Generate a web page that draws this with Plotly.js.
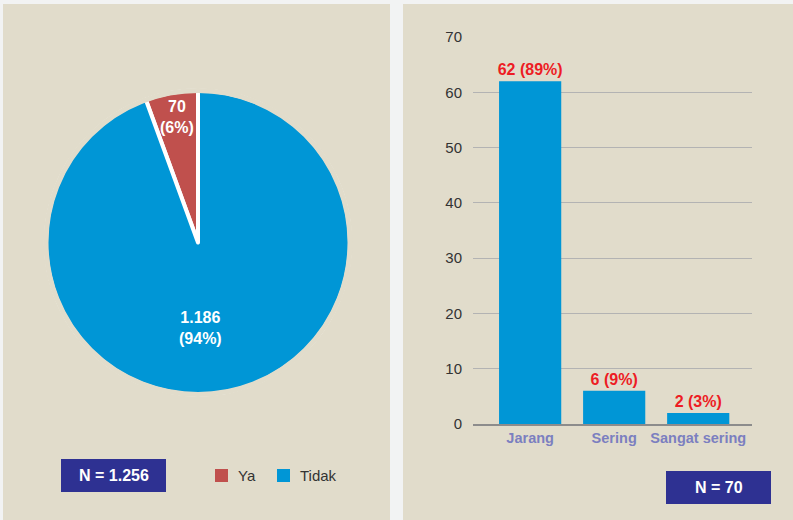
<!DOCTYPE html>
<html><head><meta charset="utf-8">
<script src="https://cdn.plot.ly/plotly-3.0.1.min.js"></script>
<style>html,body{margin:0;padding:0;background:#f2f3f3;}#chart{width:793px;height:520px;}</style>
</head><body><div id="chart"></div>
<script>
// Pie data
var pieLabels = ['Ya', 'Tidak'];
var pieValues = [70, 1186];
var pieColors = ['#c0504d', '#0096d6'];
// Bar data
var barCategories = ['Jarang', 'Sering', 'Sangat sering'];
var barValues = [62, 6, 2];
var yTicks = [0, 10, 20, 30, 40, 50, 60, 70];
var pieTotalLabel = 'N = 1.256';
var barTotalLabel = 'N = 70';

var W = 793, H = 520;
function px(x){return x / W;}
function py(y){return 1 - y / H;}
function fmt(n){return String(n).replace(/\B(?=(\d{3})+(?!\d))/g, '.');}

var FONT = 'Liberation Sans, Arial, sans-serif';
var BEIGE = '#e1dccb';
var pieTotal = pieValues.reduce(function(a,b){return a+b;},0);
var barTotal = barValues.reduce(function(a,b){return a+b;},0);

// pie box (slightly enlarged; outer white stroke is covered by a beige ring)
var pcx = 198, pcy = 242.5, pr = 152;

var pie = {
  type: 'pie', labels: pieLabels, values: pieValues, sort: false,
  direction: 'clockwise', rotation: -360 * pieValues[0] / pieTotal,
  marker: {colors: pieColors, line: {color: '#ffffff', width: 4}},
  textinfo: 'none', hoverinfo: 'none',
  domain: {x: [px(pcx - pr), px(pcx + pr)], y: [py(pcy + pr), py(pcy - pr)]},
  showlegend: false
};

var bar = {
  type: 'bar', x: barCategories, y: barValues,
  marker: {color: '#0096d6'}, width: 0.74,
  text: barValues.map(function(v){return v + ' (' + Math.round(v / barTotal * 100) + '%)';}),
  textposition: 'outside', cliponaxis: false, constraintext: 'none',
  textfont: {family: FONT, size: 16, color: '#ed1c24', weight: 'bold'},
  xaxis: 'x', yaxis: 'y', showlegend: false, hoverinfo: 'none'
};

var pieLabelPos = [[177, 117], [200, 328]];
var annotations = pieValues.map(function(v, i){
  return {xref:'paper', yref:'paper', x: px(pieLabelPos[i][0]), y: py(pieLabelPos[i][1]),
    text: fmt(v) + '<br>(' + Math.round(v / pieTotal * 100) + '%)', showarrow:false,
    font:{family: FONT, size: 16, color:'#ffffff', weight:'bold'}, xanchor:'center', yanchor:'middle'};
});
annotations.push({xref:'paper', yref:'paper', x: px(113.5), y: py(475.5), text: pieTotalLabel,
  xanchor:'center', yanchor:'middle',
  showarrow:false, font:{family: FONT, size:16, color:'#ffffff', weight:'bold'}});
annotations.push({xref:'paper', yref:'paper', x: px(718.5), y: py(487.5), text: barTotalLabel,
  xanchor:'center', yanchor:'middle',
  showarrow:false, font:{family: FONT, size:16, color:'#ffffff', weight:'bold'}});

var shapes = [
  {type:'rect', xref:'paper', yref:'paper', x0:px(3), x1:px(390), y0:py(520), y1:py(4), fillcolor:BEIGE, line:{width:0}, layer:'below'},
  {type:'rect', xref:'paper', yref:'paper', x0:px(403), x1:px(793), y0:py(520), y1:py(4), fillcolor:BEIGE, line:{width:0}, layer:'below'},
  {type:'circle', xref:'paper', yref:'paper', x0:px(pcx - pr), x1:px(pcx + pr), y0:py(pcy + pr), y1:py(pcy - pr), fillcolor:'rgba(0,0,0,0)', line:{color:BEIGE, width:5}, layer:'above'},
  {type:'rect', xref:'paper', yref:'paper', x0:px(61), x1:px(166), y0:py(492), y1:py(459), fillcolor:'#2e3192', line:{width:0}},
  {type:'rect', xref:'paper', yref:'paper', x0:px(666), x1:px(771), y0:py(504), y1:py(471), fillcolor:'#2e3192', line:{width:0}}
];

// manual legend
var legendX = [215, 277];
pieLabels.forEach(function(lab, i){
  shapes.push({type:'rect', xref:'paper', yref:'paper', x0:px(legendX[i]), x1:px(legendX[i] + 13),
    y0:py(482), y1:py(469), fillcolor:pieColors[i], line:{width:0}});
  annotations.push({xref:'paper', yref:'paper', x: px(legendX[i] + 21), y: py(475), text: lab,
    xanchor:'left', yanchor:'middle', showarrow:false,
    font:{family: FONT, size: 15, color:'#333333'}});
});

var layout = {
  width: W, height: H, margin: {l:0, r:0, t:0, b:0},
  paper_bgcolor: '#f2f3f3', plot_bgcolor: 'rgba(0,0,0,0)',
  font: {family: FONT, size: 15, color: '#333333'},
  xaxis: {domain: [px(473), px(752)], range: [-0.68, 2.64], showgrid: false, zeroline: false,
    showline: true, linecolor: '#8c8c8c', linewidth: 2, ticks: '',
    tickfont: {family: FONT, size: 14.5, color: '#7b7fc0', weight: 'bold'}, fixedrange: true},
  yaxis: {domain: [py(424), py(37)], range: [0, 70], tickvals: yTicks, showgrid: true,
    gridcolor: '#b3b3b3', gridwidth: 1, zeroline: false, showline: false, ticks: '',
    ticklabelstandoff: 10, tickfont: {family: FONT, size: 15, color: '#333333'}, fixedrange: true},
  showlegend: false,
  shapes: shapes, annotations: annotations, bargap: 0.2
};

Plotly.newPlot('chart', [pie, bar], layout, {staticPlot: true, displayModeBar: false});
</script></body></html>
